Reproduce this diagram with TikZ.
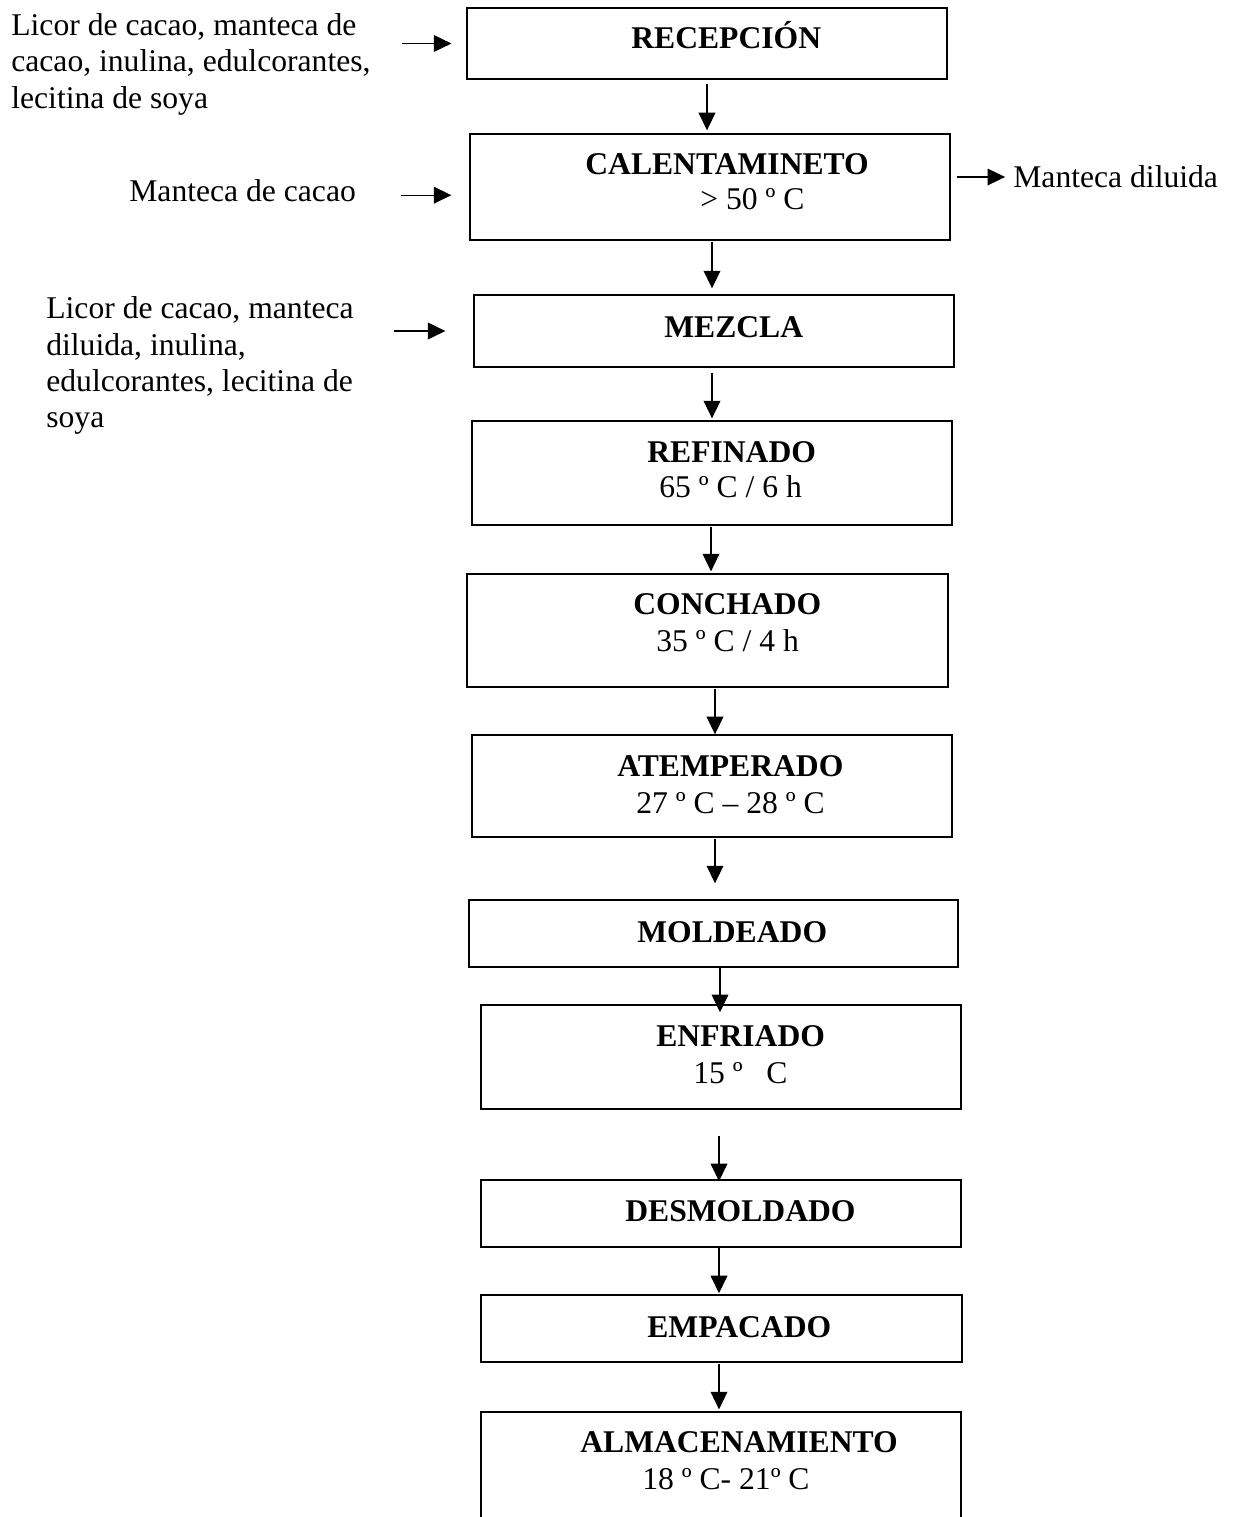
\documentclass[tikz,border=0pt]{standalone}
\usepackage{fontspec}
\setmainfont{Liberation Serif}
\usetikzlibrary{arrows.meta}

\tikzset{
  etapa/.style={draw, line width=0.8pt, inner sep=0pt, minimum width=9.6cm},
  paso/.style={font=\fontsize{18}{20.7}\selectfont\bfseries, inner sep=0pt, anchor=base west},
  valor/.style={font=\fontsize{18}{20.7}\selectfont, inner sep=0pt, anchor=base west},
  insumo/.style={font=\fontsize{18}{20.7}\selectfont, inner sep=0pt, align=left, anchor=north west},
  flecha/.style={line width=0.75pt, -{Triangle[length=10pt, width=9.5pt]}},
}

\begin{document}
\begin{tikzpicture}[x=0.02cm, y=-0.02cm]
    \useasboundingbox (0,0) rectangle (1238,1517);
    % etapas del proceso
    \node[etapa, minimum height=1.42cm] (recepcion) at (707,43.5) {};
    \node[etapa, minimum height=2.12cm] (calentamiento) at (710,187) {};
    \node[etapa, minimum height=1.44cm] (mezcla) at (714,331) {};
    \node[etapa, minimum height=2.08cm] (refinado) at (712,473) {};
    \node[etapa, minimum width=9.62cm, minimum height=2.26cm] (conchado) at (707.5,630.5) {};
    \node[etapa, minimum height=2.04cm] (atemperado) at (712,786) {};
    \node[etapa, minimum width=9.78cm, minimum height=1.34cm] (moldeado) at (713.5,933.5) {};
    \node[etapa, minimum height=2.08cm] (enfriado) at (721,1057) {};
    \node[etapa, minimum height=1.34cm] (desmoldado) at (721,1213.5) {};
    \node[etapa, minimum width=9.62cm, minimum height=1.34cm] (empacado) at (721.5,1328.5) {};
    \node[etapa, minimum height=2.66cm] (almacenamiento) at (721,1478.5) {};
    % textos de las etapas
    \node[paso] (t1) at (631,49) {RECEPCIÓN};
    \node[paso] (t2) at (585,174) {CALENTAMINETO};
    \node[valor] (v2) at (700,210) {> 50 º C};
    \node[paso] (t3) at (664,337) {MEZCLA};
    \node[paso] (t4) at (647,462) {REFINADO};
    \node[valor] (v4) at (659,497) {65 º C / 6 h};
    \node[paso] (t5) at (633,614) {CONCHADO};
    \node[valor] (v5) at (656,651) {35 º C / 4 h};
    \node[paso] (t6) at (617,776) {ATEMPERADO};
    \node[valor] (v6) at (636,813) {27 º C – 28 º C};
    \node[paso] (t7) at (637,942) {MOLDEADO};
    \node[paso] (t8) at (656,1046) {ENFRIADO};
    \node[valor] (v8) at (693,1083) {15 º~~~C};
    \node[paso] (t9) at (625,1221) {DESMOLDADO};
    \node[paso] (t10) at (647,1337) {EMPACADO};
    \node[paso] (t11) at (580,1452) {ALMACENAMIENTO};
    \node[valor] (v11) at (642,1489) {18 º C- 21º C};
    % entradas y salida
    \node[insumo] (entrada1) at (11,13) {Licor de cacao, manteca de\\cacao, inulina, edulcorantes,\\lecitina de soya};
    \node[valor] (entrada2) at (129,202) {Manteca de cacao};
    \node[insumo] (entrada3) at (46,296.5) {Licor de cacao, manteca\\diluida, inulina,\\edulcorantes, lecitina de\\soya};
    \node[valor] (salida) at (1013,188) {Manteca diluida};
    % flujo principal
    \draw[flecha, shorten <=2.3pt, shorten >=1.7pt] (recepcion.south) -- (recepcion.south |- calentamiento.north);
    \draw[flecha, shorten <=0.6pt, shorten >=3.4pt] ([xshift=0.04cm]calentamiento.south) -- ([xshift=0.04cm]calentamiento.south |- mezcla.north);
    \draw[flecha, shorten <=2.8pt, shorten >=1.1pt] ([xshift=-0.04cm]mezcla.south) -- ([xshift=-0.04cm]mezcla.south |- refinado.north);
    \draw[flecha, shorten <=0.6pt, shorten >=1.1pt] ([xshift=-0.02cm]refinado.south) -- ([xshift=-0.02cm]refinado.south |- conchado.north);
    \draw[flecha, shorten <=0.6pt] ([xshift=0.15cm]conchado.south) -- ([xshift=0.15cm]conchado.south |- atemperado.north);
    \draw[flecha, shorten <=0.6pt, shorten >=9.1pt] ([xshift=0.06cm]atemperado.south) -- ([xshift=0.06cm]atemperado.south |- moldeado.north);
    \draw[flecha, shorten >=-4.5pt] ([xshift=0.13cm]moldeado.south) -- ([xshift=0.13cm]moldeado.south |- enfriado.north);
    \draw[flecha, shorten <=14.7pt, shorten >=-1.1pt] ([xshift=-0.04cm]enfriado.south) -- ([xshift=-0.04cm]enfriado.south |- desmoldado.north);
    \draw[flecha, shorten >=0.6pt] ([xshift=-0.04cm]desmoldado.south) -- ([xshift=-0.04cm]desmoldado.south |- empacado.north);
    \draw[flecha, shorten <=0.6pt, shorten >=1.1pt] ([xshift=-0.05cm]empacado.south) -- ([xshift=-0.05cm]empacado.south |- almacenamiento.north);
    % entradas y salida
    \draw[flecha, shorten <=17.6pt, shorten >=8.5pt] (entrada1.east |- recepcion.west) -- (recepcion.west);
    \draw[flecha, shorten <=25.5pt, shorten >=10.2pt] ([yshift=-0.08cm]entrada2.east) -- ([yshift=-0.08cm]entrada2.east -| calentamiento.west);
    \draw[flecha, shorten <=22.7pt, shorten >=15.9pt] (entrada3.east |- mezcla.west) -- (mezcla.west);
    \draw[flecha, shorten <=3.4pt, shorten >=4.5pt] ([yshift=0.2cm]calentamiento.east) -- ([yshift=0.2cm]calentamiento.east -| salida.west);
\end{tikzpicture}
\end{document}
